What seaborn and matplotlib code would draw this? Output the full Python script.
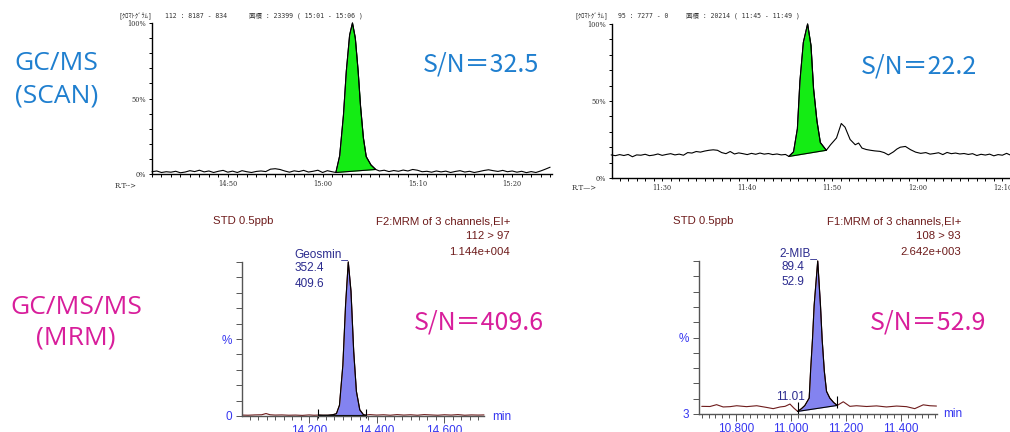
import numpy as np
import matplotlib
matplotlib.use("Agg")
import matplotlib.pyplot as plt
import matplotlib.ticker as mticker
import seaborn as sns

W, H = 1010, 432

# --- GC/MS SCAN, geosmin m/z 112 (retention time in seconds, intensity %) ---
geo_scan_t = [
    882.0, 882.5, 883.0, 883.5, 884.0, 884.5, 885.0, 885.5, 886.0, 886.5,
    887.0, 887.5, 888.0, 888.5, 889.0, 889.5, 890.0, 890.5, 891.0, 891.5,
    892.0, 892.5, 893.0, 893.5, 894.0, 894.5, 895.0, 895.5, 896.0, 896.5,
    897.0, 897.5, 898.0, 898.5, 899.0, 899.5, 900.0, 900.5, 901.0,
    901.4, 901.8, 902.2, 902.5, 902.85, 903.15, 903.45, 903.75, 904.0, 904.3,
    904.6, 905.1, 905.6,
    906.0, 906.5, 907.0, 907.5, 908.0, 908.5, 909.0, 909.5, 910.0, 910.5,
    911.0, 911.5, 912.0, 912.5, 913.0, 913.5, 914.0, 914.5, 915.0, 915.5,
    916.0, 916.5, 917.0, 917.5, 918.0, 918.5, 919.0, 919.5, 920.0, 920.5,
    921.0, 921.5, 922.0, 922.5, 923.0, 923.5, 924.0,
]
geo_scan_pct = [
    1.5, 2.0, 1.0, 1.5, 1.2, 1.8, 0.8, 1.3, 2.2, 1.6,
    2.5, 1.4, 2.0, 1.0, 1.8, 2.4, 1.2, 1.9, 1.0, 2.2,
    1.5, 1.0, 1.7, 2.0, 1.6, 3.2, 3.5, 3.0, 2.0, 1.2,
    2.1, 1.6, 2.4, 1.3, 1.8, 2.5, 1.0, 2.2, 1.5,
    1.0, 12.0, 39.0, 68.0, 92.0, 100.0, 90.0, 68.0, 45.0, 24.0,
    11.5, 6.0, 3.0,
    2.0, 2.5, 1.6, 2.3, 1.8, 2.6, 2.0, 3.0, 2.5, 1.5,
    1.8, 1.2, 2.0, 1.4, 1.9, 1.0, 1.7, 2.2, 1.3, 1.8,
    1.0, 1.6, 2.3, 2.8, 2.2, 1.7, 2.4, 1.5, 2.0, 1.2,
    1.8, 0.9, 1.6, 1.0, 2.0, 3.2, 4.5,
]
geo_scan_peak = (901.4, 905.6)

# --- GC/MS SCAN, 2-MIB m/z 95 ---
mib_scan_t = [
    684.0, 684.5, 685.0, 685.5, 686.0, 686.5, 687.0, 687.5, 688.0, 688.5,
    689.0, 689.5, 690.0, 690.5, 691.0, 691.5, 692.0, 692.5, 693.0, 693.5,
    694.0, 694.5, 695.0, 695.5, 696.0, 696.5, 697.0, 697.5, 698.0, 698.5,
    699.0, 699.5, 700.0, 700.5, 701.0, 701.5, 702.0, 702.5, 703.0, 703.5,
    704.0, 704.5, 704.9,
    705.45, 705.9, 706.2, 706.6, 707.1, 707.5, 707.8, 708.2, 708.6, 709.3,
    709.8, 710.5, 711.06, 711.5, 712.1, 712.7, 713.1, 713.5, 714.0, 714.5,
    715.0, 715.6, 716.1, 716.6, 717.2, 717.6, 718.0, 718.6, 719.2, 719.8,
    720.4, 721.0, 721.5, 722.0, 722.5, 723.0, 723.5, 724.0, 724.5, 725.0,
    725.5, 726.0, 726.5, 727.0, 727.5, 728.0, 728.5, 729.0, 729.5, 730.0,
    730.5, 730.9,
]
mib_scan_pct = [
    15.0, 14.5, 15.2, 14.6, 15.3, 13.8, 15.0, 14.8, 15.4, 14.5,
    14.9, 15.6, 14.7, 15.3, 15.8, 15.0, 15.5, 14.8, 16.5, 16.2,
    17.2, 16.8, 17.5, 18.0, 18.3, 18.0, 16.5, 15.8, 17.2, 15.6,
    16.3, 15.8, 15.2, 16.0, 15.4, 16.2, 15.5, 15.9, 15.2, 15.6,
    15.0, 15.3, 14.0,
    17.0, 32.0, 63.0, 88.0, 100.0, 86.0, 58.0, 37.0, 23.0, 18.0,
    21.6, 26.0, 35.4, 33.0, 25.0, 21.6, 22.7, 19.4, 18.5, 18.0,
    17.6, 17.3, 16.5, 15.0, 17.0, 18.8, 20.0, 20.5, 18.4, 16.8,
    16.0, 16.5, 15.5, 15.9, 16.4, 15.2, 16.6, 15.8, 16.2, 15.6,
    15.9, 15.3, 15.8, 14.6, 15.4, 14.9, 15.5, 14.4, 15.2, 14.8,
    16.0, 15.0,
]
mib_scan_peak = (704.9, 709.3)

# --- GC/MS/MS MRM, geosmin 112 > 97 (min, %) ---
geo_mrm_t = [
    14.003, 14.020, 14.040, 14.060, 14.073, 14.085, 14.100, 14.120, 14.140, 14.160,
    14.180, 14.200, 14.215, 14.228, 14.240, 14.256, 14.270, 14.281, 14.290, 14.300,
    14.308, 14.316, 14.324, 14.332, 14.340, 14.350, 14.361, 14.367, 14.380, 14.400,
    14.420, 14.440, 14.460, 14.480, 14.500, 14.520, 14.540, 14.560, 14.580, 14.600,
    14.620, 14.640, 14.660, 14.680, 14.700, 14.717,
]
geo_mrm_pct = [
    0.6, 0.5, 0.7, 0.8, 1.6, 0.8, 0.6, 0.7, 0.5, 0.6,
    0.4, 0.7, 0.5, 0.6, 0.5, 0.5, 0.8, 1.5, 7.0, 33.0,
    72.0, 100.0, 81.0, 42.0, 16.0, 4.0, 0.8, 0.6, 0.9, 0.6,
    0.8, 0.5, 0.9, 0.6, 0.8, 0.5, 0.9, 0.7, 0.5, 0.8,
    0.6, 0.9, 0.5, 0.7, 0.6, 0.7,
]
geo_mrm_peak = (14.228, 14.367)

# --- GC/MS/MS MRM, 2-MIB 108 > 93 ---
mib_mrm_t = [
    10.675, 10.705, 10.729, 10.753, 10.778, 10.802, 10.838, 10.875, 10.911, 10.935,
    10.960, 10.978, 10.996, 11.010, 11.024, 11.038, 11.050, 11.066, 11.071, 11.078,
    11.084, 11.097, 11.107, 11.113, 11.121, 11.129, 11.141, 11.155, 11.168, 11.190,
    11.214, 11.238, 11.275, 11.311, 11.347, 11.384, 11.420, 11.450, 11.481, 11.505,
    11.529,
]
mib_mrm_pct = [
    5.0, 4.9, 6.1, 4.6, 4.8, 5.4, 4.8, 5.4, 4.3, 3.5,
    4.6, 5.0, 6.5, 3.9, 1.7, 3.5, 5.5, 10.4, 28.0, 49.0,
    71.0, 100.0, 71.0, 49.0, 28.0, 14.8, 10.4, 7.5, 5.6, 8.0,
    5.0, 5.4, 4.9, 5.3, 4.6, 5.2, 4.8, 3.5, 6.0, 5.4,
    5.2,
]
mib_mrm_peak = (11.024, 11.168)

sn_values = ["32.5", "22.2", "409.6", "52.9"]
scan_headers = [
    ["[ｸﾛﾏﾄｸﾞﾗﾑ]", "112 : 8187 - 834", "面積 : 23399 ( 15:01 - 15:06 )"],
    ["[ｸﾛﾏﾄｸﾞﾗﾑ]", "95 : 7277 - 0", "面積 : 20214 ( 11:45 - 11:49 )"],
]
mrm_headers = [
    ["F2:MRM of 3 channels,EI+", "112 > 97", "1.144e+004"],
    ["F1:MRM of 3 channels,EI+", "108 > 93", "2.642e+003"],
]
peak_names = ["Geosmin_", "2-MIB_"]
peak_area = ["352.4", "89.4"]
peak_sn = ["409.6", "52.9"]
peak_rt_label = "11.01"

BLUE = "#1f7fcf"
MAGENTA = "#d81e9b"
GREEN = "#14ec14"
VIOLET = "#8383f0"
BROWN = "#6e1c1c"
NAVY = "#2b2b8e"
TICKBLUE = "#3636f0"
CJK = ["Noto Sans CJK JP", "DejaVu Sans"]
MONO = ["DejaVu Sans Mono", "Noto Sans CJK JP"]
BIG = ["Open Sans", "Noto Sans CJK JP"]

sns.set_theme(style="ticks")
plt.rcParams["font.family"] = ["Liberation Sans", "DejaVu Sans"]


def box(x0, y0, x1, y1):
    return [x0 / W, 1 - y1 / H, (x1 - x0) / W, (y1 - y0) / H]


def ftext(fig, x, y, s, **kw):
    fig.text(x / W, 1 - y / H, s, **kw)


def mmss(v, _):
    v = int(round(v))
    return f"{v // 60}:{v % 60:02d}"


def draw_trace(ax, t, pct, peak, line_color, fill_color):
    sns.lineplot(x=t, y=pct, ax=ax, color=line_color, linewidth=0.8,
                 estimator=None, sort=False)
    t = np.asarray(t)
    pct = np.asarray(pct)
    m = (t >= peak[0] - 1e-9) & (t <= peak[1] + 1e-9)
    pt, pp = t[m], pct[m]
    base = np.interp(pt, [pt[0], pt[-1]], [pp[0], pp[-1]])
    ax.fill_between(pt, base, pp, color=fill_color, linewidth=0)
    ax.plot(pt, pp, color="black", linewidth=0.8)
    ax.plot([pt[0], pt[-1]], [pp[0], pp[-1]], color="black", linewidth=0.8)
    for ln in ax.lines:
        ln.set_clip_on(False)
    return pt, pp


def style_scan(ax, xlim):
    ax.set_xlim(*xlim)
    ax.set_ylim(0, 100)
    sns.despine(ax=ax)
    for s in ("left", "bottom"):
        ax.spines[s].set_linewidth(1.0)
        ax.spines[s].set_color("black")
    ax.xaxis.set_major_locator(mticker.MultipleLocator(10))
    ax.xaxis.set_minor_locator(mticker.MultipleLocator(1))
    ax.xaxis.set_major_formatter(mticker.FuncFormatter(mmss))
    ax.yaxis.set_major_locator(mticker.FixedLocator([0, 50, 100]))
    ax.yaxis.set_minor_locator(mticker.MultipleLocator(10))
    ax.yaxis.set_major_formatter(mticker.FuncFormatter(lambda v, _: f"{v:.0f}%"))
    ax.tick_params(which="both", direction="out", length=2.5, width=0.7,
                   labelsize=4.8, pad=1.5, colors="black", labelcolor="#333333")
    for lab in ax.get_xticklabels() + ax.get_yticklabels():
        lab.set_family("DejaVu Serif")
    ax.set_xlabel("")
    ax.set_ylabel("")


def style_mrm(ax, xlim, zero_label):
    ax.set_xlim(*xlim)
    ax.set_ylim(0, 100)
    sns.despine(ax=ax)
    for s in ("left", "bottom"):
        ax.spines[s].set_linewidth(1.0)
        ax.spines[s].set_color("#555555")
    ax.xaxis.set_major_locator(mticker.MultipleLocator(0.2))
    ax.xaxis.set_minor_locator(mticker.MultipleLocator(0.025))
    ax.xaxis.set_major_formatter(mticker.FormatStrFormatter("%.3f"))
    ax.yaxis.set_major_locator(mticker.FixedLocator([0, 50]))
    ax.yaxis.set_minor_locator(mticker.MultipleLocator(10))
    ax.set_yticklabels([zero_label, "%"])
    ax.tick_params(which="both", direction="out", width=0.7, colors="#555555",
                   labelcolor=TICKBLUE, labelsize=8.5)
    ax.tick_params(axis="x", which="major", length=5, pad=1.5)
    ax.tick_params(axis="x", which="minor", length=3)
    ax.tick_params(axis="y", which="both", length=4, pad=3)
    ax.set_xlabel("")
    ax.set_ylabel("")


fig = plt.figure(figsize=(W / 100, H / 100), dpi=100)

# ---------------- top row: GC/MS SCAN ----------------
ax_tl = fig.add_axes(box(152, 23, 552, 174))
draw_trace(ax_tl, geo_scan_t, geo_scan_pct, geo_scan_peak, "black", GREEN)
style_scan(ax_tl, (882, 924.2))

ax_tr = fig.add_axes(box(612, 24, 1010, 178))
draw_trace(ax_tr, mib_scan_t, mib_scan_pct, mib_scan_peak, "black", GREEN)
style_scan(ax_tr, (684.1, 730.9))

for xs, hdr in (((118, 165, 249), scan_headers[0]), ((575, 618, 686), scan_headers[1])):
    for x, s in zip(xs, hdr):
        ftext(fig, x, 16, s, fontsize=4.7, family=MONO, color="#333333", va="center")
ftext(fig, 115, 186, "R.T-->", fontsize=5, family="DejaVu Serif", color="#333333", va="center")
ftext(fig, 572, 188, "R.T—>", fontsize=5, family="DejaVu Serif", color="#333333", va="center")

ftext(fig, 481, 65, f"S/N＝{sn_values[0]}", fontsize=18, family=CJK, color=BLUE,
      ha="center", va="center")
ftext(fig, 919, 66, f"S/N＝{sn_values[1]}", fontsize=18, family=CJK, color=BLUE,
      ha="center", va="center")

ftext(fig, 56, 63, "GC/MS", fontsize=19, family=BIG, color=BLUE, ha="center", va="center")
ftext(fig, 57, 96, "(SCAN)", fontsize=19, family=BIG, color=BLUE, ha="center", va="center")

# ---------------- bottom row: GC/MS/MS MRM ----------------
ax_bl = fig.add_axes(box(242, 262, 484, 416))
pt, pp = draw_trace(ax_bl, geo_mrm_t, geo_mrm_pct, geo_mrm_peak, BROWN, VIOLET)
ax_bl.vlines([pt[0], pt[-1]], [pp[0] - 2, pp[-1] - 2], [pp[0] + 4, pp[-1] + 4],
             color="black", linewidth=0.8, clip_on=False)
style_mrm(ax_bl, (14.002, 14.717), "0")
apex = pt[np.argmax(pp)]
ax_bl.text(apex, 105, peak_names[0], ha="right", va="center", color=NAVY, fontsize=8.5, clip_on=False)
ax_bl.text(apex - 0.115, 96, peak_area[0], ha="center", va="center", color=NAVY, fontsize=8.5)
ax_bl.text(apex - 0.115, 86, peak_sn[0], ha="center", va="center", color=NAVY, fontsize=8.5)

ax_br = fig.add_axes(box(699, 261, 937, 414))
pt, pp = draw_trace(ax_br, mib_mrm_t, mib_mrm_pct, mib_mrm_peak, BROWN, VIOLET)
ax_br.vlines([pt[0], pt[-1]], [pp[0] - 2, pp[-1] - 2], [pp[0] + 6, pp[-1] + 6],
             color="black", linewidth=0.8, clip_on=False)
style_mrm(ax_br, (10.665, 11.531), "3")
apex = pt[np.argmax(pp)]
ax_br.text(apex, 105, peak_names[1], ha="right", va="center", color=NAVY, fontsize=8.5, clip_on=False)
ax_br.text(apex - 0.09, 96, peak_area[1], ha="center", va="center", color=NAVY, fontsize=8.5)
ax_br.text(apex - 0.09, 86, peak_sn[1], ha="center", va="center", color=NAVY, fontsize=8.5)
ax_br.text(pt[0] - 0.025, 11, peak_rt_label, ha="center", va="center", color=NAVY, fontsize=8.5)

for x_left, x_right, hdr in ((213, 510, mrm_headers[0]), (673, 961, mrm_headers[1])):
    ftext(fig, x_left, 221, "STD 0.5ppb", fontsize=8.2, color=BROWN, va="center")
    ftext(fig, x_right, 221, hdr[0], fontsize=8.2, color=BROWN, va="center", ha="right")
    ftext(fig, x_right, 236, hdr[1], fontsize=8.2, color=BROWN, va="center", ha="right")
    ftext(fig, x_right, 252, hdr[2], fontsize=8.2, color=BROWN, va="center", ha="right")

ftext(fig, 492, 417, "min", fontsize=8.5, color=TICKBLUE, va="center")
ftext(fig, 943, 414, "min", fontsize=8.5, color=TICKBLUE, va="center")

ftext(fig, 479, 322, f"S/N＝{sn_values[2]}", fontsize=18, family=CJK, color=MAGENTA,
      ha="center", va="center")
ftext(fig, 928, 322, f"S/N＝{sn_values[3]}", fontsize=18, family=CJK, color=MAGENTA,
      ha="center", va="center")

ftext(fig, 76, 307, "GC/MS/MS", fontsize=19, family=BIG, color=MAGENTA, ha="center", va="center")
ftext(fig, 76, 338, "(MRM)", fontsize=19, family=BIG, color=MAGENTA, ha="center", va="center")

fig.savefig("out.png", dpi=100)
